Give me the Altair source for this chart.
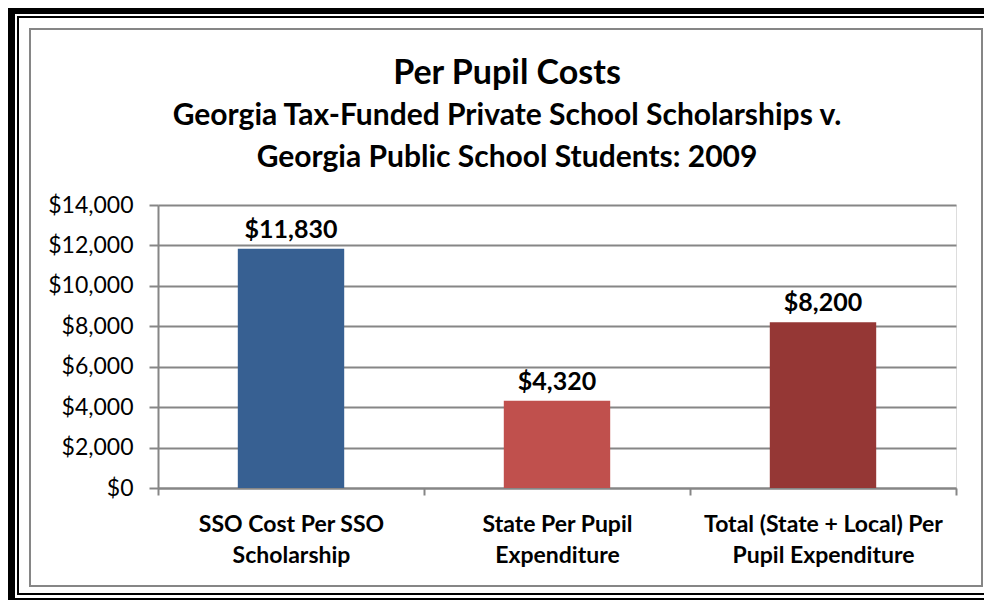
import altair as alt
import pandas as pd

categories = [
    "SSO Cost Per SSO Scholarship",
    "State Per Pupil Expenditure",
    "Total (State + Local) Per Pupil Expenditure",
]
label_lines = [
    ["SSO Cost Per SSO", "Scholarship"],
    ["State Per Pupil", "Expenditure"],
    ["Total (State + Local) Per", "Pupil Expenditure"],
]
values = [11830, 4320, 8200]
bar_colors = ["#376092", "#C0504D", "#953735"]
value_labels = ["$11,830", "$4,320", "$8,200"]
y_ticks = [0, 2000, 4000, 6000, 8000, 10000, 12000, 14000]

title_text = "Per Pupil Costs"
subtitle_lines = [
    "Georgia Tax-Funded Private School Scholarships v.",
    "Georgia Public School Students: 2009",
]

FONT = "Lato"
GRAY = "#868686"
W, H = 798, 283

df = pd.DataFrame({
    "category": categories,
    "value": values,
    "color": bar_colors,
    "vlabel": value_labels,
})

# multi-line axis labels
expr = "datum.label"
for name, lines in reversed(list(zip(categories, label_lines))):
    arr = "[" + ",".join("'" + l.replace("'", "\\'") + "'" for l in lines) + "]"
    expr = f"datum.label == '{name}' ? {arr} : ({expr})"

x_enc = alt.X(
    "category:N",
    sort=categories,
    scale=alt.Scale(paddingInner=0, paddingOuter=0),
    axis=alt.Axis(
        title=None,
        labelAngle=0,
        labelExpr=expr,
        labelFont=FONT,
        labelFontSize=23,
        labelFontWeight="bold",
        labelColor="black",
        labelLimit=400,
        labelLineHeight=31,
        labelPadding=18,
        labelBaseline="top",
        tickBand="extent",
        tickSize=7,
        tickColor=GRAY,
        tickWidth=2,
        domainColor=GRAY,
        domainWidth=2,
        grid=False,
    ),
)
y_enc = alt.Y(
    "value:Q",
    scale=alt.Scale(domain=[0, 14000], nice=False),
    axis=alt.Axis(
        title=None,
        values=y_ticks,
        format="$,.0f",
        labelFont=FONT,
        labelFontSize=23,
        labelColor="black",
        labelPadding=16,
        tickSize=9,
        tickColor=GRAY,
        tickWidth=2,
        domainColor=GRAY,
        domainWidth=2,
        gridColor=GRAY,
        gridWidth=2,
    ),
)

bars = alt.Chart(df).mark_bar(width=alt.RelativeBandSize(0.4)).encode(
    x=x_enc,
    y=y_enc,
    color=alt.Color("color:N", scale=None),
)
texts = alt.Chart(df).mark_text(
    font=FONT, fontSize=25, fontWeight="bold", color="black",
    baseline="alphabetic", dy=-11,
).encode(
    x=alt.X("category:N", sort=categories),
    y="value:Q",
    text="vlabel:N",
)

# decorative frame (pixel offsets relative to the plot area)
def rect(x1, x2, y1, y2, fill):
    return alt.Chart(pd.DataFrame({"k": [0]})).mark_rect(fill=fill, clip=False).encode(
        x=alt.value(x1), x2=alt.value(x2), y=alt.value(y1), y2=alt.value(y2)
    )

frame_parts = [
    rect(-150, -143, -197, 395, "black"),
    rect(-150, 826, -197, -191, "black"),
    rect(-150, 826, 393, 395, "black"),
    rect(-141, -139, -188, 390, "black"),
    rect(-141, 826, -189, -187, "black"),
    rect(-141, 826, 388, 390, "black"),
]
gray_frame = alt.Chart(pd.DataFrame({"k": [0]})).mark_rect(
    fill=None, stroke=GRAY, strokeWidth=2, clip=False
).encode(x=alt.value(-128), x2=alt.value(824), y=alt.value(-176), y2=alt.value(381))

chart = alt.layer(*frame_parts, gray_frame, bars, texts).properties(
    width=W,
    height=H,
    autosize=alt.AutoSizeParams(type="none"),
    padding={"left": 150, "top": 197, "right": 28, "bottom": 112},
    title=alt.TitleParams(
        text=title_text,
        subtitle=subtitle_lines,
        anchor="middle",
        frame="group",
        dx=-50,
        font=FONT,
        fontSize=34,
        fontWeight="bold",
        color="black",
        subtitleFont=FONT,
        subtitleFontSize=30,
        subtitleFontWeight="bold",
        subtitleColor="black",
        subtitleLineHeight=42,
        subtitlePadding=10,
        offset=-165,
    ),
).configure_view(stroke=None).configure(background="white")

chart.save("out.html", embed_options={"renderer": "svg", "actions": False})
